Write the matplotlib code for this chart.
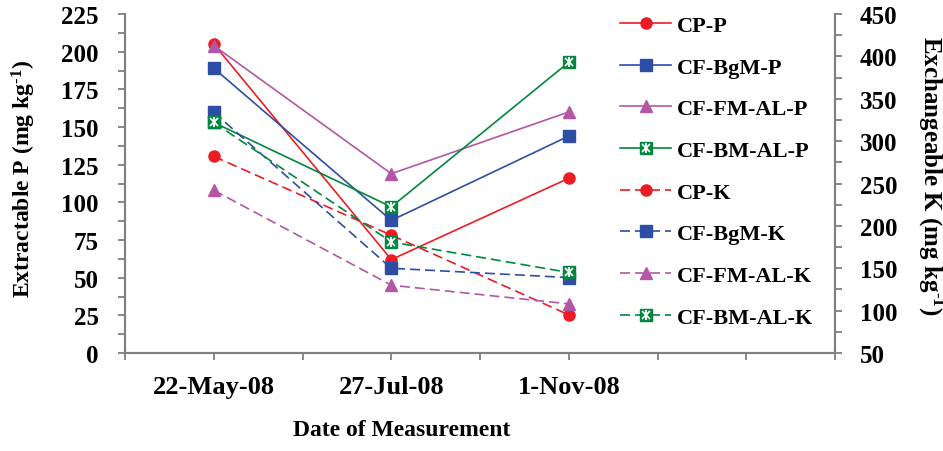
import numpy as np
import matplotlib.pyplot as plt
from matplotlib.legend_handler import HandlerTuple

plt.rcParams['font.family'] = ['Liberation Serif', 'DejaVu Serif']
plt.rcParams['font.weight'] = 'bold'
plt.rcParams['mathtext.fontset'] = 'custom'
plt.rcParams['mathtext.rm'] = 'Liberation Serif:bold'
plt.rcParams['mathtext.it'] = 'Liberation Serif:bold'
plt.rcParams['mathtext.bf'] = 'Liberation Serif:bold'

dates = ['22-May-08', '27-Jul-08', '1-Nov-08']
xpos = [1, 3, 5]

# extractable P (left axis), mg/kg
cp_p = [205, 62, 116]
bgm_p = [189, 88, 144]
fm_p = [204, 119, 160]
bm_p = [153, 97, 193]

# exchangeable K (right axis), mg/kg
cp_k = [282, 189, 95]
bgm_k = [334, 150, 139]
fm_k = [242, 130, 108]
bm_k = [322, 181, 145]

red = '#ED1C24'
blue = '#2E4EA6'
purple = '#B356A6'
green = '#00883E'
grey = '#808080'

fig = plt.figure(figsize=(9.43, 4.52), dpi=100)
ax = fig.add_axes([0.1326, 0.2168, 0.753, 0.75])
ax2 = ax.twinx()

def bm_marker(axis, x, y, ls):
    base, = axis.plot(x, y, color=green, lw=1.2, ls=ls, marker='s', ms=8,
                      mfc=green, mec=green)
    if ls == '--':
        base.set_dashes((6, 3))
    xm, = axis.plot(x, y, ls='none', marker='x', ms=6, mew=1.3, mec='white')
    vm, = axis.plot(x, y, ls='none', marker='|', ms=7, mew=1.3, mec='white')
    return (base, xm, vm)

h1, = ax.plot(xpos, cp_p, color=red, lw=1.2, marker='o', ms=8)
h2, = ax.plot(xpos, bgm_p, color=blue, lw=1.2, marker='s', ms=8)
h3, = ax.plot(xpos, fm_p, color=purple, lw=1.2, marker='^', ms=9)
h4 = bm_marker(ax, xpos, bm_p, '-')

h5, = ax2.plot(xpos, cp_k, color=red, lw=1.2, ls='--', dashes=(6, 3), marker='o', ms=8)
h6, = ax2.plot(xpos, bgm_k, color=blue, lw=1.2, ls='--', dashes=(6, 3), marker='s', ms=8)
h7, = ax2.plot(xpos, fm_k, color=purple, lw=1.2, ls='--', dashes=(6, 3), marker='^', ms=9)
h8 = bm_marker(ax2, xpos, bm_k, '--')

ax.set_xlim(0, 8)
ax.set_ylim(0, 225)
ax2.set_ylim(50, 450)

# ticks at every slot, date labels only under the measured points
ticks = np.arange(0, 9)
ticklabels = [''] * len(ticks)
for p, d in zip(xpos, dates):
    ticklabels[p] = d
ax.set_xticks(ticks)
ax.set_xticklabels(ticklabels, fontsize=19)
ax.set_yticks(np.arange(0, 226, 25))
ax.set_yticks(np.arange(0, 226, 12.5), minor=True)
ax2.set_yticks(np.arange(50, 451, 50))
ax2.set_yticks(np.arange(50, 451, 25), minor=True)

for a in (ax, ax2):
    for s in a.spines.values():
        s.set_color(grey)
        s.set_linewidth(1.5)
    a.spines['top'].set_visible(False)
    a.tick_params(which='both', direction='out', length=5, width=1.3, color=grey)
    a.tick_params(axis='y', labelsize=18)
ax.tick_params(axis='y', pad=14)
ax.tick_params(axis='x', pad=11)
ax2.tick_params(axis='y', pad=13)

ax.set_xlabel('Date of Measurement', fontsize=17, fontweight='bold', va='center')
ax.xaxis.set_label_coords(0.389, -0.227)
ax.set_ylabel(r'Extractable P (mg kg$^{\text{-1}}$)', fontsize=17, fontweight='bold',
              va='center')
ax.yaxis.set_label_coords(-0.142, 0.516)
ax2.set_ylabel(r'Exchangeable K (mg kg$^{\text{-1}}$)', fontsize=18, fontweight='bold',
               rotation=-90, va='center')
ax2.yaxis.set_label_coords(1.134, 0.525)

handles = [h1, h2, h3, h4, h5, h6, h7, h8]
labels = ['CP-P', 'CF-BgM-P', 'CF-FM-AL-P', 'CF-BM-AL-P',
          'CP-K', 'CF-BgM-K', 'CF-FM-AL-K', 'CF-BM-AL-K']
ax2.legend(handles, labels, loc='upper left', bbox_to_anchor=(0.669, 1.055),
           frameon=False, fontsize=16, handlelength=2.3, handletextpad=0.25,
           labelspacing=0.95, handler_map={tuple: HandlerTuple(ndivide=1)})

fig.savefig('out.png', dpi=100)
